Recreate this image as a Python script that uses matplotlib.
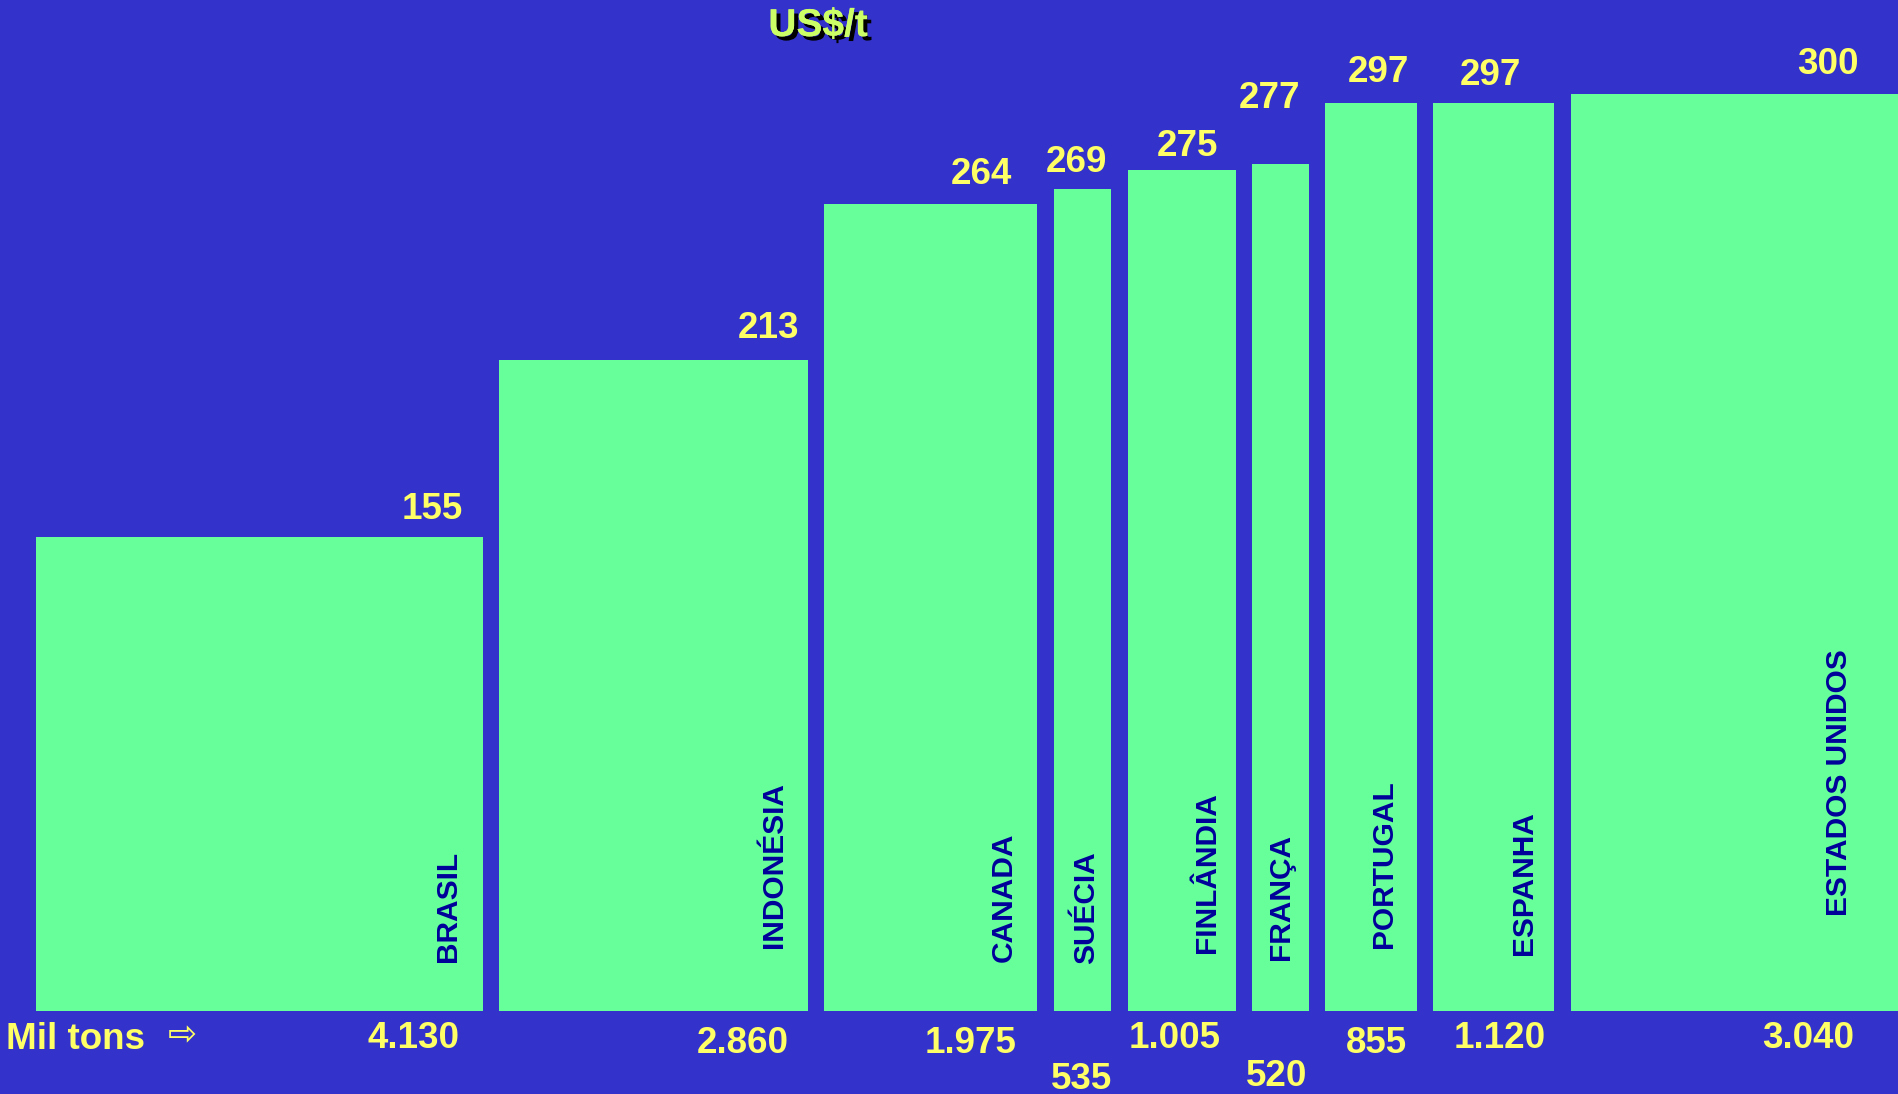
import numpy as np
import matplotlib
matplotlib.use('Agg')
import matplotlib.pyplot as plt
import matplotlib.patheffects as pe

# paises, producao (mil t) e preco (US$/t)
paises = ['BRASIL', 'INDONÉSIA', 'CANADA', 'SUÉCIA', 'FINLÂNDIA',
          'FRANÇA', 'PORTUGAL', 'ESPANHA', 'ESTADOS UNIDOS']
mil_tons = [4130, 2860, 1975, 535, 1005, 520, 855, 1120, 3040]
preco = [155, 213, 264, 269, 275, 277, 297, 297, 300]
mil_tons_txt = ['4.130', '2.860', '1.975', '535', '1.005',
                '520', '855', '1.120', '3.040']

fundo = '#3333CC'
verde = '#66FF99'
amarelo = '#FFFF66'
azul_escuro = '#000099'

# deslocamentos dos rotulos (pontos)
preco_dx = [-14, -6, -18, -3, -13, -6, -6, -24, -29]
preco_dy = [14, 16.5, 15, 13, 11, 41, 16, 14, 15]
tons_dx = [111, 64.5, 29, -1, -5, -3, 4, 4, 53]
tons_dy = [-26, -29, -29, -55, -26, -53, -29, -26, -26]
nome_dx = [-25, -24, -24, -18, -21, -20, -24, -22, -43]
nome_dy = [36, 46, 36, 35, 43, 37.5, 46, 41, 69]

gap = 150
larg = np.array(mil_tons)
esq = np.concatenate([[0], np.cumsum(larg[:-1] + gap)])

plt.rcParams['font.family'] = ['Liberation Sans', 'DejaVu Sans']

fig = plt.figure(figsize=(18.99, 10.949), dpi=100, facecolor=fundo)
ax = fig.add_axes([0, 0, 1, 1])
ax.set_facecolor(fundo)

ax.bar(esq, preco, width=larg, align='edge', color=verde, linewidth=0)

for i in range(len(paises)):
    dir_x = esq[i] + larg[i]
    cx = esq[i] + larg[i] / 2
    ax.annotate(str(preco[i]), xy=(dir_x, preco[i]), xytext=(preco_dx[i], preco_dy[i]),
                textcoords='offset points', ha='right', va='baseline',
                color=amarelo, fontsize=26.5, fontweight='bold')
    ax.annotate(mil_tons_txt[i], xy=(cx, 0), xytext=(tons_dx[i], tons_dy[i]),
                textcoords='offset points', ha='center', va='baseline',
                color=amarelo, fontsize=26.5, fontweight='bold')
    ax.annotate(paises[i], xy=(dir_x, 0), xytext=(nome_dx[i], nome_dy[i]),
                textcoords='offset points', ha='center', va='bottom', rotation=90,
                color=azul_escuro, fontsize=21.5, fontweight='bold')

ax.set_xlim(-337, esq[-1] + larg[-1])
ax.set_ylim(-27, 331)
ax.axis('off')

fig.text(818 / 1899, 1 - 27 / 1095, 'US$/t', ha='center', va='center',
         color='#CCFF66', fontsize=28, fontweight='bold',
         path_effects=[pe.withSimplePatchShadow(offset=(3, -3), shadow_rgbFace='black', alpha=1),
                       pe.Normal()])
fig.text(6 / 1899, 1 - 1049 / 1095, 'Mil tons', ha='left', va='baseline',
         color=amarelo, fontsize=26.5, fontweight='bold')
fig.text(168 / 1899, 1 - 1045 / 1095, '⇨', ha='left', va='baseline',
         color=amarelo, fontsize=25, family='DejaVu Sans')

fig.savefig('out.png', dpi=100, facecolor=fundo)
